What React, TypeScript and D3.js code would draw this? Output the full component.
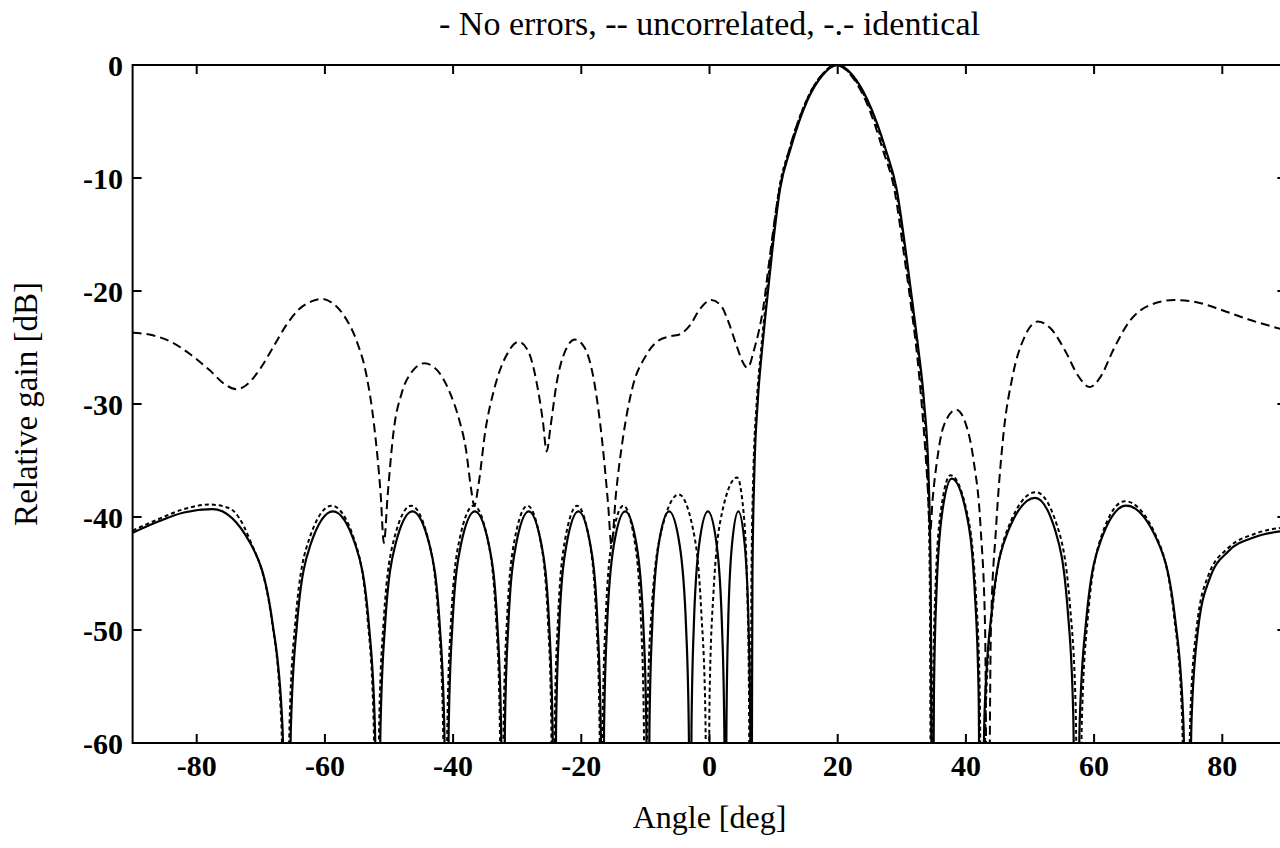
import React from "react";
import * as d3 from "d3";

// ---------- data ----------
const xTicks = [-80, -60, -40, -20, 0, 20, 40, 60, 80];
const yTicks = [0, -10, -20, -30, -40, -50, -60];

const titleText = "- No errors, -- uncorrelated, -.- identical";
const xLabel = "Angle [deg]";
const yLabel = "Relative gain [dB]";

// No errors (solid) : [angle deg, gain dB]
const noErrors: [number, number][] = [
  [-90, -41.4], [-86, -40.4], [-82, -39.6], [-77.5, -39.3], [-71.65, -42.3], [-68.14, -49.5], [-66.62, -58.5], [-65.8, -80],
  [-65.31, -58.7], [-64.39, -49.7], [-62.28, -42.5], [-58.75, -39.5], [-55.22, -42.5], [-53.11, -49.7], [-52.19, -58.7], [-51.7, -80],
  [-51.33, -58.7], [-50.63, -49.7], [-49.03, -42.5], [-46.35, -39.5], [-43.67, -42.5], [-42.07, -49.7], [-41.37, -58.7], [-41.0, -80],
  [-40.69, -58.7], [-40.12, -49.7], [-38.8, -42.5], [-36.6, -39.5], [-34.4, -42.5], [-33.08, -49.7], [-32.51, -58.7], [-32.2, -80],
  [-31.92, -58.7], [-31.4, -49.7], [-30.2, -42.5], [-28.2, -39.5], [-26.2, -42.5], [-25.0, -49.7], [-24.48, -58.7], [-24.2, -80],
  [-23.94, -58.7], [-23.45, -49.7], [-22.33, -42.5], [-20.45, -39.5], [-18.57, -42.5], [-17.45, -49.7], [-16.96, -58.7], [-16.7, -80],
  [-16.45, -58.7], [-15.99, -49.7], [-14.93, -42.5], [-13.15, -39.5], [-11.37, -42.5], [-10.31, -49.7], [-9.85, -58.7], [-9.6, -80],
  [-9.37, -58.7], [-8.94, -49.7], [-7.95, -42.5], [-6.3, -39.5], [-4.65, -42.5], [-3.66, -49.7], [-3.23, -58.7], [-3.0, -80],
  [-2.81, -58.7], [-2.45, -49.7], [-1.63, -42.5], [-0.25, -39.5], [1.13, -42.5], [1.95, -49.7], [2.31, -58.7], [2.5, -80],
  [2.64, -58.7], [2.9, -49.7], [3.5, -42.5], [4.5, -39.5], [5.5, -42.5], [6.1, -49.7], [6.36, -58.7], [6.5, -80],
  [6.7, -45], [7.0, -36], [7.5, -30], [8.2, -25.2], [8.7, -22.3], [9.8, -16.4], [11.0, -11], [12.6, -7.5], [15.3, -3.1], [17.5, -1.0],
  [20.0, 0], [22.45, -1.0], [24.65, -3.1], [27.5, -7.5], [29.2, -11], [30.6, -16.4], [31.95, -22.3], [32.6, -25.2], [33.5, -30],
  [34.15, -36], [34.5, -45], [34.78, -80],
  [35.01, -55.8], [35.4, -46.8], [36.3, -39.6], [37.8, -36.6], [40.05, -39.6], [41.4, -46.8], [41.99, -55.8], [42.3, -80],
  [42.9, -57.5], [44.0, -48.5], [46.55, -41.3], [50.8, -38.3], [54.0, -41.3], [55.92, -48.5], [56.75, -57.5], [57.2, -80],
  [57.75, -58.2], [58.76, -49.2], [61.1, -42], [65.0, -39], [69.8, -42], [72.68, -49.2], [73.93, -58.2], [74.6, -80],
  [75.2, -58], [76.2, -50], [78, -45.5], [81, -43], [85, -41.8], [90, -41.2],
];

// Uncorrelated errors (coarse dashed)
const uncorrelated: [number, number][] = [
  [-90, -23.7], [-87, -23.9], [-84, -24.5], [-81, -25.6], [-78, -27.0], [-75.5, -28.3], [-73.8, -28.7], [-72, -28.2], [-70, -26.8],
  [-68, -24.9], [-66, -23.0], [-64, -21.6], [-62, -20.9], [-60.5, -20.7], [-59, -21.0], [-57, -22.2], [-55, -24.5], [-53.5, -27.5],
  [-52.3, -32], [-51.3, -38], [-50.8, -42.3], [-50.2, -38], [-49.3, -32.5], [-48, -29], [-46.5, -27.2], [-44.5, -26.4], [-42.5, -27],
  [-40.5, -29], [-39, -31.5], [-38, -34], [-37.2, -37.5], [-36.7, -39.0], [-36, -37], [-35, -32.5], [-33.5, -28.5], [-31.5, -25.5],
  [-29.8, -24.5], [-28.3, -25.3], [-27, -28], [-26, -31.5], [-25.4, -34.2], [-24.8, -32], [-23.8, -28], [-22.5, -25.3], [-21, -24.3],
  [-19.5, -25], [-18, -28], [-16.8, -33], [-15.8, -39], [-15.3, -42.5], [-14.6, -38], [-13.5, -33], [-12, -28.5], [-10, -25.8],
  [-8, -24.4], [-6, -24], [-4.5, -23.8], [-3, -23], [-1.5, -21.6], [0.3, -20.8], [1.8, -21.3], [3, -22.8], [4.2, -24.8], [5.2, -26.3],
  [5.9, -26.8], [6.3, -26.5], [6.9, -25.3], [7.6, -23.8], [8.3, -21.8], [9.4, -17], [10.6, -12], [12.2, -8], [14.8, -3.6], [17.2, -1.1],
  [19.8, 0], [22.2, -1.0], [24.4, -3.2], [27.1, -7.6], [28.9, -11.2], [30.3, -16.6], [31.6, -22], [32.45, -26], [33.1, -30], [33.65, -34],
  [34.1, -38], [34.4, -41.5], [34.8, -38.5], [35.5, -35], [36.5, -32], [38.5, -30.5], [40.0, -31.8], [41.2, -35], [42.3, -41], [43.0, -50],
  [43.4, -80], [43.9, -50], [44.7, -41], [45.8, -33], [47.3, -27.5], [49.2, -24], [51.2, -22.7], [53.2, -23.3], [55.5, -25.3], [57.5, -27.5],
  [59.3, -28.5], [61, -27.6], [63, -25.2], [65.5, -22.7], [68.5, -21.3], [72.5, -20.8], [76, -21.0], [80, -21.7], [84, -22.5], [90, -23.5],
];

// Identical errors (fine dashed)
const identical: [number, number][] = [
  [-90, -41.2], [-86, -40.2], [-82, -39.3], [-78, -38.9], [-75, -39.2], [-71.8, -41.9], [-68.3, -49.1], [-66.8, -58.1], [-66.0, -80],
  [-65.51, -58.2], [-64.59, -49.2], [-62.48, -42], [-58.95, -39], [-55.42, -42], [-53.31, -49.2], [-52.39, -58.2], [-51.9, -80],
  [-51.53, -58.2], [-50.83, -49.2], [-49.23, -42], [-46.55, -39], [-43.87, -42], [-42.27, -49.2], [-41.57, -58.2], [-41.2, -80],
  [-40.89, -58.2], [-40.32, -49.2], [-39.0, -42], [-36.8, -39], [-34.6, -42], [-33.28, -49.2], [-32.71, -58.2], [-32.4, -80],
  [-32.12, -58.2], [-31.6, -49.2], [-30.4, -42], [-28.4, -39], [-26.4, -42], [-25.2, -49.2], [-24.68, -58.2], [-24.4, -80],
  [-24.14, -58.2], [-23.65, -49.2], [-22.53, -42], [-20.65, -39], [-18.77, -42], [-17.65, -49.2], [-17.16, -58.2], [-16.9, -80],
  [-16.66, -58.2], [-16.21, -49.2], [-15.18, -42], [-13.45, -39], [-11.72, -42], [-10.69, -49.2], [-10.24, -58.2], [-10.0, -80],
  [-9.66, -57.2], [-9.03, -48.2], [-7.4, -41], [-4.8, -38], [-2.6, -41], [-1.3, -48.2], [-0.65, -57.2], [-0.3, -80],
  [0.02, -55.7], [0.62, -46.7], [2.0, -39.5], [4.3, -36.5], [5.3, -39.5], [5.9, -46.7], [6.16, -55.7], [6.35, -80],
  [6.55, -45], [6.85, -36], [7.35, -30], [8.05, -25.2], [8.55, -22.3], [9.65, -16.4], [10.85, -11], [12.45, -7.5], [15.15, -3.1], [17.35, -1.0],
  [19.85, 0], [22.3, -1.0], [24.5, -3.1], [27.35, -7.5], [29.05, -11], [30.5, -16.4], [31.8, -22.3], [32.5, -25.2], [33.35, -30],
  [34.0, -36], [34.35, -45], [34.65, -80],
  [34.86, -55.5], [35.24, -46.5], [36.13, -39.3], [37.6, -36.3], [40.05, -39.3], [41.52, -46.5], [42.16, -55.5], [42.5, -80],
  [43.09, -57], [44.18, -48], [46.7, -40.8], [50.9, -37.8], [54.25, -40.8], [56.26, -48], [57.13, -57], [57.6, -80],
  [58.1, -57.8], [59.04, -48.8], [61.2, -41.6], [64.8, -38.6], [69.6, -41.6], [72.48, -48.8], [73.73, -57.8], [74.4, -80],
  [75.0, -57.8], [76.0, -49.8], [77.8, -45.2], [81, -42.7], [85, -41.5], [90, -40.9],
];

// ---------- layout ----------
const W = 1280;
const H = 848;
const left = 132.6;
const right = 1286.4;
const top = 65;
const bottom = 743;
const font = "'Liberation Serif', 'Times New Roman', Times, serif";

export default function App() {
  const x = d3.scaleLinear().domain([-90, 90]).range([left, right]);
  const y = d3.scaleLinear().domain([-60, 0]).range([bottom, top]);
  const line = d3
    .line<[number, number]>()
    .x((d) => x(d[0]))
    .y((d) => y(d[1]))
    .curve(d3.curveMonotoneX);

  const tickLen = 9;
  return (
    <svg
      width={W}
      height={H}
      style={{ position: "absolute", left: 0, top: 0, background: "#fff" }}
      fontFamily={font}
    >
      <rect x={0} y={0} width={W} height={H} fill="#fff" />
      <defs>
        <clipPath id="plot">
          <rect x={left} y={top} width={right - left} height={bottom - top} />
        </clipPath>
      </defs>

      <g clipPath="url(#plot)" fill="none" stroke="#000">
        <path d={line(uncorrelated) || ""} strokeWidth={2} strokeDasharray="9,5" />
        <path d={line(identical) || ""} strokeWidth={2} strokeDasharray="4,3" />
        <path d={line(noErrors) || ""} strokeWidth={2.2} />
      </g>

      {/* axes box */}
      <g stroke="#000" strokeWidth={2} fill="none">
        <rect x={left} y={top} width={right - left} height={bottom - top} />
        {xTicks.map((t) => (
          <g key={"xt" + t}>
            <line x1={x(t)} x2={x(t)} y1={bottom} y2={bottom - tickLen} />
            <line x1={x(t)} x2={x(t)} y1={top} y2={top + tickLen} />
          </g>
        ))}
        {yTicks.map((t) => (
          <g key={"yt" + t}>
            <line x1={left} x2={left + tickLen} y1={y(t)} y2={y(t)} />
            <line x1={right} x2={right - tickLen} y1={y(t)} y2={y(t)} />
          </g>
        ))}
      </g>

      {/* tick labels */}
      <g fontSize={30} fontWeight="bold" fill="#000">
        {xTicks.map((t) => (
          <text key={"xl" + t} x={x(t)} y={776} textAnchor="middle">
            {t}
          </text>
        ))}
        {yTicks.map((t) => (
          <text key={"yl" + t} x={123} y={y(t)} textAnchor="end" dominantBaseline="central">
            {t}
          </text>
        ))}
      </g>

      {/* titles */}
      <text x={(left + right) / 2} y={35} textAnchor="middle" fontSize={34} fill="#000">
        {titleText}
      </text>
      <text x={(left + right) / 2} y={828} textAnchor="middle" fontSize={32} fill="#000">
        {xLabel}
      </text>
      <text
        transform={`translate(37, ${(top + bottom) / 2}) rotate(-90)`}
        textAnchor="middle"
        fontSize={33}
        fill="#000"
      >
        {yLabel}
      </text>
    </svg>
  );
}
